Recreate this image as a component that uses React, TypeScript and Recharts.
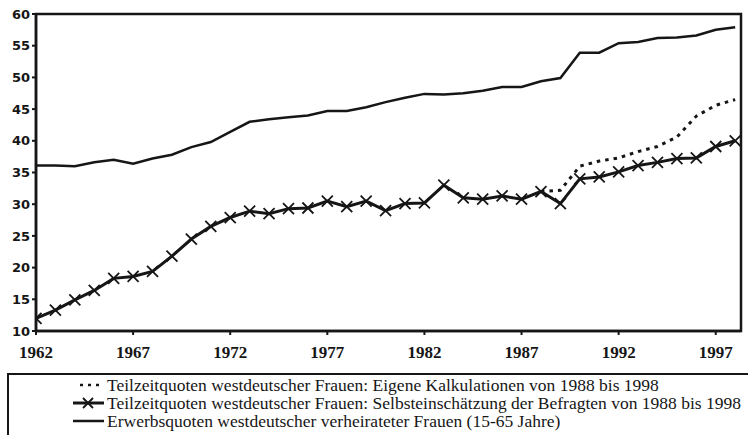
import { LineChart, Line, XAxis, YAxis, ReferenceArea } from "recharts";

const years = [
  1962, 1963, 1964, 1965, 1966, 1967, 1968, 1969, 1970, 1971,
  1972, 1973, 1974, 1975, 1976, 1977, 1978, 1979, 1980, 1981,
  1982, 1983, 1984, 1985, 1986, 1987, 1988, 1989, 1990, 1991,
  1992, 1993, 1994, 1995, 1996, 1997, 1998,
];

// Teilzeitquoten: Selbsteinschätzung
const selbst = [
  12.0, 13.3, 14.9, 16.4, 18.3, 18.6, 19.4, 21.8, 24.5, 26.5,
  27.9, 28.9, 28.5, 29.3, 29.4, 30.5, 29.6, 30.5, 29.0, 30.1,
  30.2, 33.0, 31.0, 30.8, 31.3, 30.8, 32.0, 30.1, 34.0, 34.3,
  35.1, 36.1, 36.6, 37.2, 37.3, 39.1, 40.0,
];

// Teilzeitquoten: eigene Kalkulationen (ab 1988)
const eigene: (number | null)[] = [
  null, null, null, null, null, null, null, null, null, null,
  null, null, null, null, null, null, null, null, null, null,
  null, null, null, null, null, null, 32.0, 32.2, 36.0, 36.8,
  37.3, 38.3, 39.1, 40.6, 43.9, 45.6, 46.5,
];

// Erwerbsquoten verheirateter Frauen
const erwerb = [
  36.1, 36.1, 36.0, 36.6, 37.0, 36.4, 37.2, 37.8, 39.0, 39.8,
  41.4, 43.0, 43.4, 43.7, 44.0, 44.7, 44.7, 45.3, 46.1, 46.8,
  47.4, 47.3, 47.5, 47.9, 48.5, 48.5, 49.4, 49.9, 53.9, 53.9,
  55.4, 55.6, 56.2, 56.3, 56.6, 57.5, 57.9,
];

const xTicks = [1962, 1967, 1972, 1977, 1982, 1987, 1992, 1997];
const yTicks = [10, 15, 20, 25, 30, 35, 40, 45, 50, 55, 60];

const legendLabels = [
  "Teilzeitquoten westdeutscher Frauen: Eigene Kalkulationen von 1988 bis 1998",
  "Teilzeitquoten westdeutscher Frauen: Selbsteinschätzung der Befragten von 1988 bis 1998",
  "Erwerbsquoten westdeutscher verheirateter Frauen (15-65 Jahre)",
];

const INK = "#161616";

const data = years.map((y, i) => ({
  year: y,
  selbst: selbst[i],
  eigene: eigene[i],
  erwerb: erwerb[i],
}));

function CrossDot(props: any) {
  const { cx, cy, index } = props;
  if (cx == null || cy == null) return <g key={`d-${index}`} />;
  return (
    <path
      key={`d-${index}`}
      d={`M${cx - 5.5},${cy - 5.5}L${cx + 5.5},${cy + 5.5}M${cx - 5.5},${cy + 5.5}L${cx + 5.5},${cy - 5.5}`}
      stroke={INK}
      strokeWidth={1.8}
      fill="none"
    />
  );
}

function LegendSample({ kind }: { kind: number }) {
  return (
    <svg width={32} height={12} style={{ display: "block" }}>
      {kind === 0 && (
        <line x1={7} y1={6} x2={31} y2={6} stroke={INK} strokeWidth={2.5} strokeDasharray="3 5" />
      )}
      {kind === 1 && (
        <g>
          <line x1={0} y1={6} x2={31} y2={6} stroke={INK} strokeWidth={3} />
          <path d="M10,1L20,11M10,11L20,1" stroke={INK} strokeWidth={1.8} />
        </g>
      )}
      {kind === 2 && <line x1={0} y1={6} x2={31} y2={6} stroke={INK} strokeWidth={2.5} />}
    </svg>
  );
}

export default function App() {
  return (
    <div
      style={{
        position: "absolute",
        left: 0,
        top: 0,
        width: 748,
        height: 435,
        background: "#fff",
        overflow: "hidden",
      }}
    >
      <LineChart
        width={748}
        height={372}
        data={data}
        margin={{ top: 14, right: 7, left: 6, bottom: 6 }}
      >
        <XAxis
          dataKey="year"
          type="number"
          domain={[1962, 1998.3]}
          ticks={xTicks}
          allowDataOverflow
          height={35}
          tickSize={4}
          tickMargin={11}
          axisLine={{ stroke: INK, strokeWidth: 2.5 }}
          tickLine={{ stroke: INK, strokeWidth: 2 }}
          tick={{ fill: INK, fontSize: 17, fontWeight: "bold", fontFamily: "Liberation Serif" }}
        />
        <YAxis
          domain={[10, 60]}
          ticks={yTicks}
          allowDataOverflow
          width={30}
          tickSize={4}
          tickMargin={2}
          axisLine={{ stroke: INK, strokeWidth: 2.5 }}
          tickLine={{ stroke: INK, strokeWidth: 2 }}
          tick={{ fill: INK, fontSize: 13, fontWeight: "bold", fontFamily: "DejaVu Sans" }}
        />
        <ReferenceArea
          x1={1962}
          x2={1998.3}
          y1={10}
          y2={60}
          fill="none"
          stroke={INK}
          strokeWidth={2.5}
        />
        <Line
          dataKey="erwerb"
          stroke={INK}
          strokeWidth={2.5}
          dot={false}
          isAnimationActive={false}
        />
        <Line
          dataKey="eigene"
          stroke={INK}
          strokeWidth={3}
          strokeDasharray="3.5 5"
          dot={false}
          isAnimationActive={false}
        />
        <Line
          dataKey="selbst"
          stroke={INK}
          strokeWidth={3}
          dot={CrossDot}
          isAnimationActive={false}
        />
      </LineChart>
      <div
        style={{
          position: "absolute",
          left: 7,
          top: 373,
          width: 770,
          height: 80,
          border: `2px solid ${INK}`,
          boxSizing: "border-box",
          paddingTop: 1,
          fontFamily: "Liberation Serif",
          fontSize: 17.5,
          color: INK,
        }}
      >
        {legendLabels.map((label, i) => (
          <div
            key={label}
            style={{ display: "flex", alignItems: "center", height: 18, paddingLeft: 64 }}
          >
            <LegendSample kind={i} />
            <span style={{ marginLeft: 2, whiteSpace: "nowrap" }}>{label}</span>
          </div>
        ))}
      </div>
    </div>
  );
}
